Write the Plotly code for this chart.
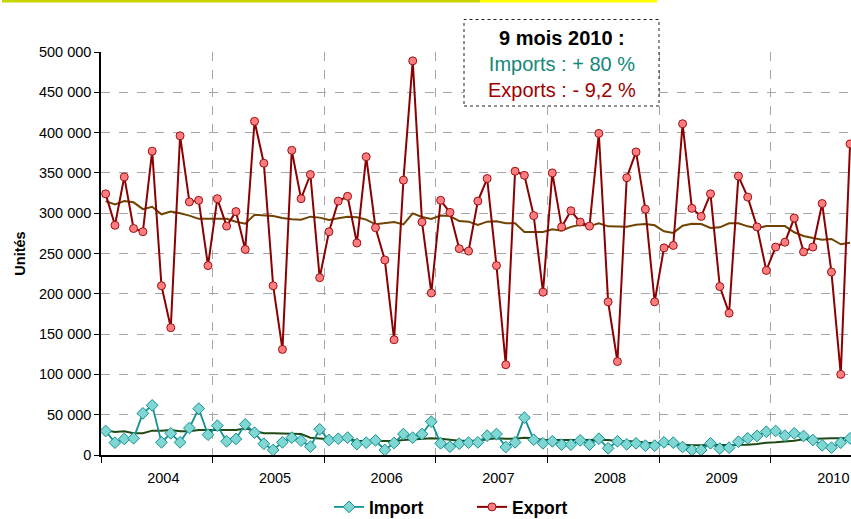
import plotly.graph_objects as go

years = ["2004", "2005", "2006", "2007", "2008", "2009", "2010"]

export_vals = [
    324, 285, 345, 281, 277, 377, 210, 158, 396, 314, 316, 235,
    318, 284, 302, 255, 414, 362, 210, 131, 378, 318, 348, 220,
    277, 315, 321, 263, 370, 282, 242, 143, 341, 489, 289, 201,
    316, 301, 256, 253, 315, 343, 235, 112, 352, 347, 297, 202,
    350, 283, 303, 289, 284, 399, 190, 116, 344, 376, 305, 190,
    257, 260, 411, 306, 296, 324, 209, 176, 346, 320, 283, 229,
    258, 264, 294, 252, 258, 312, 227, 100, 386,
]
import_vals = [
    29.8, 15.3, 19.9, 20.7, 51.7, 61.6, 15.7, 26.9, 15.7, 33.5, 57.5, 25.2,
    36.4, 17.0, 19.9, 38.0, 27.7, 14.0, 6.2, 15.7, 21.5, 17.8, 10.3, 31.9,
    18.6, 20.2, 21.5, 13.6, 15.3, 18.2, 6.2, 14.9, 26.0, 21.5, 26.0, 41.3,
    14.5, 10.3, 14.0, 15.3, 15.7, 24.0, 26.0, 9.9, 15.7, 46.3, 19.0, 14.5,
    17.0, 12.8, 12.8, 18.2, 12.8, 20.2, 8.3, 17.0, 13.2, 14.5, 11.6, 11.6,
    15.7, 15.3, 9.9, 6.2, 6.2, 14.5, 7.9, 9.1, 16.5, 20.7, 23.6, 28.9,
    29.8, 24.0, 26.9, 23.6, 18.6, 12.0, 9.1, 15.3, 20.7,
]
export_trend = [
    315, 311, 315, 313.5, 305, 308, 298.6, 302, 300, 297, 293, 293,
    293, 293, 289.5, 287, 298, 297, 296.5, 294, 292.4, 292, 295.7, 294.5,
    291.6, 293.6, 295.7, 295, 292, 286.2, 287.8, 289, 286, 299.8, 295.3, 292.8,
    297, 296.5, 290.3, 289.5, 285.5, 289.5, 290, 287.5, 287.5, 276.7, 276.7, 276.7,
    280, 278.3, 283, 285.7, 284, 287.5, 283.7, 283.3, 283.3, 285.7, 286.6, 285,
    277.5, 275.6, 284.5, 287, 286.6, 281.6, 282.5, 287.5, 287.5, 283.7, 281.3, 284,
    284, 284, 276.3, 271.7, 269.2, 267.2, 268, 261.4, 263.4,
]
import_trend = [
    30.6, 28.5, 29.4, 26.9, 26.9, 30.2, 30.2, 31.0, 29.4, 29.4, 31.0, 31.0,
    31.9, 31.0, 31.0, 33.0, 30.2, 26.9, 26.9, 26.9, 26.9, 26.0, 21.5, 20.2,
    19.5, 19.5, 19.5, 17.8, 17.8, 17.6, 17.4, 17.4, 18.6, 19.5, 20.2, 20.7,
    20.2, 18.6, 17.8, 17.8, 17.8, 19.5, 20.7, 20.2, 20.2, 21.5, 20.7, 18.6,
    18.6, 18.6, 18.6, 18.6, 18.6, 18.6, 18.6, 17.4, 17.4, 17.0, 15.3, 14.5,
    14.5, 13.6, 12.8, 12.0, 12.0, 12.0, 12.0, 12.0, 12.0, 12.8, 13.6, 15.3,
    15.7, 16.5, 17.8, 19.5, 20.2, 20.2, 20.7, 20.7, 20.7,
]

months = list(range(len(export_vals)))
exp_units = [v * 1000 for v in export_vals]
imp_units = [v * 1000 for v in import_vals]
exp_tr_units = [v * 1000 for v in export_trend]
imp_tr_units = [v * 1000 for v in import_trend]

year_label_pos = [6.2 + 12 * i for i in range(len(years))]
year_bounds = [-0.5 + 12 * i for i in range(len(years))]

FONT = "Liberation Sans, Arial, sans-serif"

fig = go.Figure()

fig.add_trace(go.Scatter(
    x=months, y=imp_tr_units, mode="lines", showlegend=False,
    line=dict(color="#1f4a14", width=2), hoverinfo="skip",
))
fig.add_trace(go.Scatter(
    x=months, y=exp_tr_units, mode="lines", showlegend=False,
    line=dict(color="#704400", width=2), hoverinfo="skip",
))
fig.add_trace(go.Scatter(
    x=months, y=imp_units, mode="lines+markers", name="Import",
    line=dict(color="#119191", width=1.8),
    marker=dict(symbol="diamond", size=9, color="#7fd6d2",
                line=dict(color="#119191", width=1)),
    cliponaxis=False,
))
fig.add_trace(go.Scatter(
    x=months, y=exp_units, mode="lines+markers", name="Export",
    line=dict(color="#8b0000", width=2),
    marker=dict(symbol="circle", size=8, color="#ff7c80",
                line=dict(color="#9b1010", width=1)),
    cliponaxis=False,
))

def px_x(px):
    return (px - 101) / 750.0

def px_y(py):
    return (455 - py) / 403.0

shapes = [
    dict(type="line", xref="paper", yref="paper",
         x0=px_x(2), x1=px_x(480), y0=px_y(1), y1=px_y(1),
         line=dict(color="#c8d400", width=3)),
    dict(type="line", xref="paper", yref="paper",
         x0=px_x(480), x1=px_x(657), y0=px_y(1), y1=px_y(1),
         line=dict(color="#ffff00", width=3)),
    dict(type="rect", xref="paper", yref="paper",
         x0=px_x(464), x1=px_x(659), y0=px_y(106), y1=px_y(19.5),
         line=dict(color="#222222", width=1, dash="dot"),
         fillcolor="white", layer="above"),
]

annotations = [
    dict(xref="paper", yref="paper", x=px_x(561.5), y=px_y(64),
         xanchor="center", yanchor="middle", showarrow=False, align="center",
         text="<b>9 mois 2010 :</b><br>"
              "<span style='color:#14877a'>Imports : + 80 %</span><br>"
              "<span style='color:#a00000'>Exports : - 9,2 %</span>",
         font=dict(family=FONT, size=20, color="black")),
]

fig.update_layout(
    width=851, height=519,
    margin=dict(l=101, r=0, t=52, b=64, autoexpand=False),
    paper_bgcolor="white", plot_bgcolor="white",
    separators=", ",
    font=dict(family=FONT, size=14.5, color="black"),
    shapes=shapes, annotations=annotations,
    legend=dict(orientation="h", x=px_x(329), xanchor="left",
                y=px_y(507), yanchor="middle", entrywidth=98,
                font=dict(family=FONT, size=17.5, color="black", weight="bold"),
                itemwidth=30, bgcolor="rgba(0,0,0,0)"),
    xaxis=dict(
        range=[-0.5, 80.1], automargin=False,
        tickmode="array", tickvals=year_label_pos, ticktext=years,
        ticks="outside", ticklen=9, tickcolor="rgba(0,0,0,0)",
        showgrid=False, zeroline=False,
        showline=True, linecolor="black", linewidth=1.5,
        minor=dict(tickmode="array", tickvals=year_bounds, ticks="outside",
                   ticklen=6, tickcolor="black", tickwidth=1,
                   showgrid=True, gridcolor="#a6a6a6", griddash="dash",
                   gridwidth=1),
    ),
    yaxis=dict(
        range=[0, 500000], tickmode="linear", tick0=0, dtick=50000,
        tickformat=",d", automargin=False,
        ticks="outside", ticklen=5, tickcolor="black",
        showgrid=True, gridcolor="#a6a6a6", griddash="dash", gridwidth=1,
        zeroline=False, showline=True, linecolor="black", linewidth=1.5,
        title=dict(text="<b>Unités</b>", standoff=10,
                   font=dict(family=FONT, size=14.5)),
    ),
)

fig.write_html(
    "out.html",
    config={"displayModeBar": False},
    post_script="document.body.style.margin='0';document.body.style.padding='0';",
)
